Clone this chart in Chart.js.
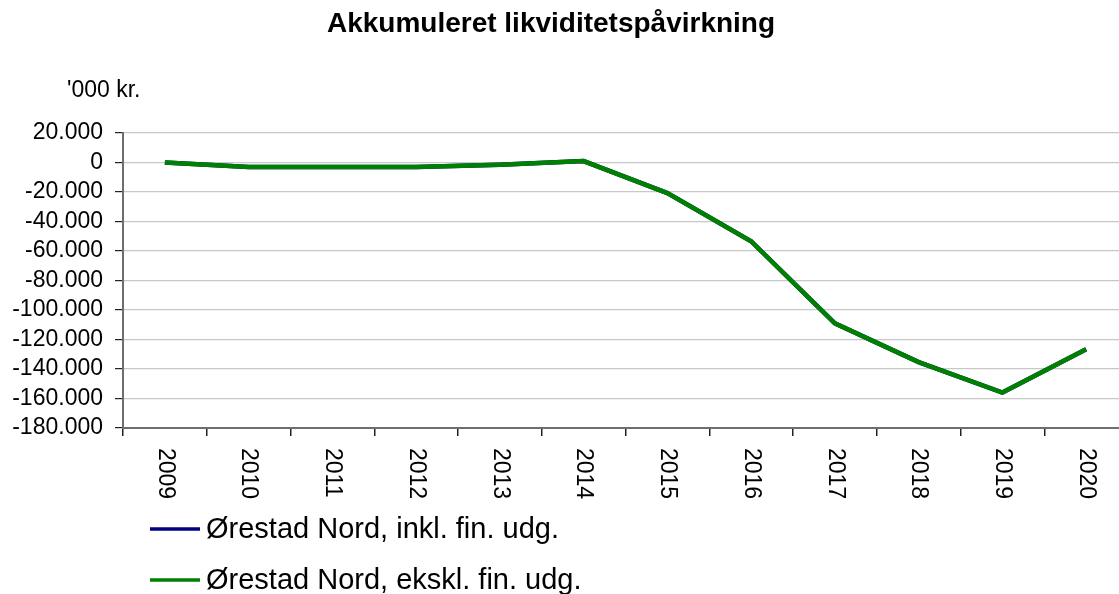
<!DOCTYPE html>
<html>
<head>
<meta charset="utf-8">
<script src="https://cdn.jsdelivr.net/npm/chart.js@4.4.1/dist/chart.umd.min.js"></script>
<style>
  html, body { margin: 0; padding: 0; background: #fff; overflow: hidden; }
  #wrap { width: 1119px; height: 594px; overflow: hidden; }
</style>
</head>
<body>
<div id="wrap"><canvas id="chart" width="1128" height="594"></canvas></div>
<script>
let years = ['2009', '2010', '2011', '2012', '2013', '2014', '2015', '2016', '2017', '2018', '2019', '2020'];
let inklFinUdg = [0, -3000, -3000, -3000, -1500, 1000, -20700, -53400, -109000, -135300, -156000, -126600];
let ekslFinUdg = [0, -3000, -3000, -3000, -1500, 1000, -20700, -53400, -109000, -135300, -156000, -126600];
let seriesNames = ['Ørestad Nord, inkl. fin. udg.', 'Ørestad Nord, ekskl. fin. udg.'];
let chartTitle = 'Akkumuleret likviditetspåvirkning';
let unitLabel = "'000 kr.";

const FONT = '"Liberation Sans", Arial, sans-serif';

function danish(v) {
    let s = Math.abs(v).toString().replace(/\B(?=(\d{3})+(?!\d))/g, '.');
    return (v < 0 ? '-' : '') + s;
}

// title, unit, rotated year labels and legend drawn on top of the chart
const extras = {
    id: 'extras',
    afterDraw(chart) {
        const ctx = chart.ctx;
        const xs = chart.scales.x;
        const area = chart.chartArea;
        ctx.save();
        ctx.fillStyle = '#000';

        ctx.font = 'bold 28px ' + FONT;
        ctx.textAlign = 'center';
        ctx.textBaseline = 'alphabetic';
        ctx.fillText(chartTitle, 551, 32);

        ctx.font = '23px ' + FONT;
        ctx.textAlign = 'left';
        ctx.fillText(unitLabel, 67, 97);

        for (let i = 0; i < years.length; i++) {
            ctx.save();
            ctx.translate(xs.getPixelForValue(i), area.bottom + 20);
            ctx.rotate(Math.PI / 2);
            ctx.textAlign = 'left';
            ctx.textBaseline = 'middle';
            ctx.fillText(years[i], 0, 0);
            ctx.restore();
        }

        chart.data.datasets.forEach((ds, i) => {
            const y = 529 + i * 51;
            ctx.strokeStyle = ds.borderColor;
            ctx.lineWidth = 3.5;
            ctx.beginPath();
            ctx.moveTo(150, y);
            ctx.lineTo(200, y);
            ctx.stroke();
            ctx.font = '29px ' + FONT;
            ctx.textAlign = 'left';
            ctx.textBaseline = 'middle';
            ctx.fillText(ds.label, 206, y + 1);
        });
        ctx.restore();
    }
};

const ctx = document.getElementById('chart');

new Chart(ctx, {
    type: 'line',
    data: {
        labels: years,
        datasets: [{
            label: seriesNames[0],
            data: inklFinUdg,
            borderColor: '#000080',
            borderWidth: 4.5,
            pointRadius: 0,
            tension: 0,
            order: 1
        }, {
            label: seriesNames[1],
            data: ekslFinUdg,
            borderColor: '#008000',
            borderWidth: 4.5,
            pointRadius: 0,
            tension: 0,
            order: 0
        }]
    },
    options: {
        responsive: false,
        animation: false,
        devicePixelRatio: 1,
        layout: { padding: { top: 133, left: 0, right: 0, bottom: 0 } },
        plugins: {
            legend: { display: false },
            title: { display: false },
            tooltip: { enabled: false }
        },
        scales: {
            x: {
                offset: true,
                grid: {
                    offset: true,
                    drawOnChartArea: false,
                    drawTicks: true,
                    tickLength: 8,
                    tickColor: '#222',
                    lineWidth: 1.5
                },
                border: { color: '#6e6e6e', width: 2 },
                ticks: { display: false },
                afterFit(s) { s.height = 166; }
            },
            y: {
                min: -180000,
                max: 20000,
                ticks: {
                    stepSize: 20000,
                    autoSkip: false,
                    color: '#000',
                    padding: 12,
                    font: { family: FONT, size: 23 },
                    callback: v => danish(v)
                },
                grid: {
                    color: '#c8c8c8',
                    lineWidth: 1.2,
                    tickLength: 8,
                    tickColor: '#222'
                },
                border: { color: '#6e6e6e', width: 2 },
                afterFit(s) { s.width = 123; }
            }
        }
    },
    plugins: [extras]
});
</script>
</body>
</html>
